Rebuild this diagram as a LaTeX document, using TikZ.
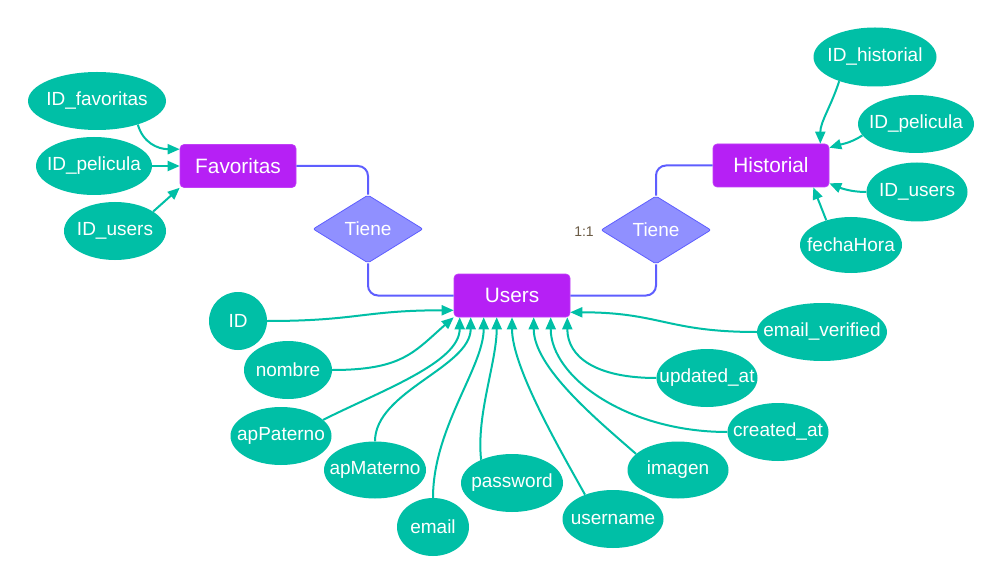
\documentclass[tikz,border=0pt]{standalone}
\usepackage{fontspec}
\setmainfont{Liberation Sans}
\usetikzlibrary{shapes.geometric,arrows.meta}
\definecolor{entfill}{HTML}{B620F5}
\definecolor{relfill}{HTML}{9090FF}
\definecolor{reldraw}{HTML}{5E5EFF}
\definecolor{attfill}{HTML}{00BFA6}
\definecolor{labcol}{HTML}{6B5B45}
\newcommand\zb[1]{\makebox[0pt]{#1}}
\tikzset{
  ent/.style={rectangle, rounded corners=4pt, fill=entfill, draw=entfill!85!white, line width=0.6pt,
    minimum width=116pt, minimum height=43pt, inner sep=0pt, text=white,
    font=\fontsize{20.8}{24}\selectfont},
  rel/.style={diamond, fill=relfill, draw=reldraw, line width=0.8pt, rounded corners=2pt,
    minimum width=110pt, minimum height=68pt, inner sep=0pt, text=white,
    font=\fontsize{19}{22}\selectfont},
  att/.style={ellipse, fill=attfill, draw=none, minimum width=101pt, minimum height=58pt,
    inner sep=0pt, text=white, font=\fontsize{19}{22}\selectfont},
  lab/.style={text=labcol, inner sep=0pt, font=\fontsize{14}{16}\selectfont},
  rl/.style={draw=reldraw, line width=2pt, rounded corners=10pt},
  al/.style={draw=attfill, line width=2pt, -{Triangle[length=12pt,width=10pt]}},
}
\begin{document}
\begin{tikzpicture}[x=1pt,y=-1pt]
\useasboundingbox[fill=white] (0,0) rectangle (1003,585);
% entities
\node[ent] (fav) at (238,166) {Favoritas};
\node[ent] (his) at (771,165.5) {Historial};
\node[ent] (usr) at (512,295.5) {Users};
% relationships
\node[rel] (t1) at (368,229) {Tiene};
\node[rel] (t2) at (656,230) {Tiene};
\node[lab] (l11) at (584,232) {1:1};
% relationship lines
\draw[rl] (fav.east) -| (t1.north);
\draw[rl] (t1.south) |- (usr.west);
\draw[rl] (his.west) -| (t2.north);
\draw[rl] (t2.south) |- (usr.east);
% Favoritas attributes
\node[att, minimum width=138pt] (a1) at (97,101) {\zb{ID\_favoritas}};
\node[att, minimum width=116pt] (a2) at (94,166) {\zb{ID\_pelicula}};
\node[att, minimum width=102pt] (a3) at (115,231) {\zb{ID\_users}};
\draw[al] (a1.-30) .. controls +(5,18) and +(-22,0) .. ([yshift=-5pt]fav.north west);
\draw[al] (a2.east) -- (fav.west);
\draw[al] (a3.27) -- (fav.south west);
% Historial attributes
\node[att, minimum width=123pt, minimum height=59pt] (h1) at (875,57) {\zb{ID\_historial}};
\node[att, minimum width=116pt] (h2) at (916,124) {\zb{ID\_pelicula}};
\node[att, minimum height=59pt] (h3) at (917,192) {\zb{ID\_users}};
\node[att, minimum width=102pt, minimum height=56pt] (h4) at (851,245) {\zb{fechaHora}};
\draw[al] (h1.-146) .. controls +(-8,25) and +(0,-22) .. ([xshift=-9pt]his.north east);
\draw[al] (h2.-168) .. controls +(-12,8) and +(10,-3) .. ([yshift=-4pt]his.north east);
\draw[al] (h3.west) .. controls +(-15,0) and +(12,5) .. ([yshift=4pt]his.south east);
\draw[al] (h4.135) -- ([xshift=-16pt]his.south east);
% Users attributes
\node[att, minimum width=58pt] (u1) at (238,321) {\zb{ID}};
\node[att, minimum width=88pt] (u2) at (288,370) {\zb{nombre}};
\node[att] (u3) at (281,436) {\zb{apPaterno}};
\node[att, minimum width=102pt, minimum height=57pt] (u4) at (375,470) {\zb{apMaterno}};
\node[att, minimum width=72pt] (u5) at (433,527) {\zb{email}};
\node[att, minimum width=102pt] (u6) at (512,483) {\zb{password}};
\node[att] (u7) at (613,519) {\zb{username}};
\node[att, minimum height=57pt] (u8) at (678,470) {\zb{imagen}};
\node[att] (u9) at (778,432) {\zb{created\_at}};
\node[att] (u10) at (707,378) {\zb{updated\_at}};
\node[att, minimum width=130pt] (u11) at (822,332) {\zb{email\_verified}};
\draw[al] (u1.east) .. controls +(90,0) and +(-90,0) .. ([yshift=7pt]usr.south west);
\draw[al] (u2.east) .. controls +(70,0) and +(-40,35) .. (usr.south west);
\draw[al] (u3.21) .. controls +(60,-30) and +(0,45) .. ([xshift=6pt]usr.south west);
\draw[al] (u4.north) .. controls +(0,-50) and +(0,50) .. ([xshift=17pt]usr.south west);
\draw[al] (u5.north) .. controls +(0,-70) and +(0,50) .. ([xshift=30pt]usr.south west);
\draw[al] (u6.143) .. controls +(-5,-45) and +(0,45) .. ([xshift=43pt]usr.south west);
\draw[al] (u7.139) .. controls +(-25,-45) and +(0,50) .. (usr.south);
\draw[al] (u8.159) .. controls +(-40,-35) and +(0,50) .. ([xshift=80pt]usr.south west);
\draw[al] (u9.west) .. controls +(-100,0) and +(0,60) .. ([xshift=97pt]usr.south west);
\draw[al] (u10.west) .. controls +(-60,0) and +(0,40) .. ([xshift=-3pt]usr.south east);
\draw[al] (u11.west) .. controls +(-90,0) and +(90,0) .. ([yshift=5pt]usr.south east);
\end{tikzpicture}
\end{document}
